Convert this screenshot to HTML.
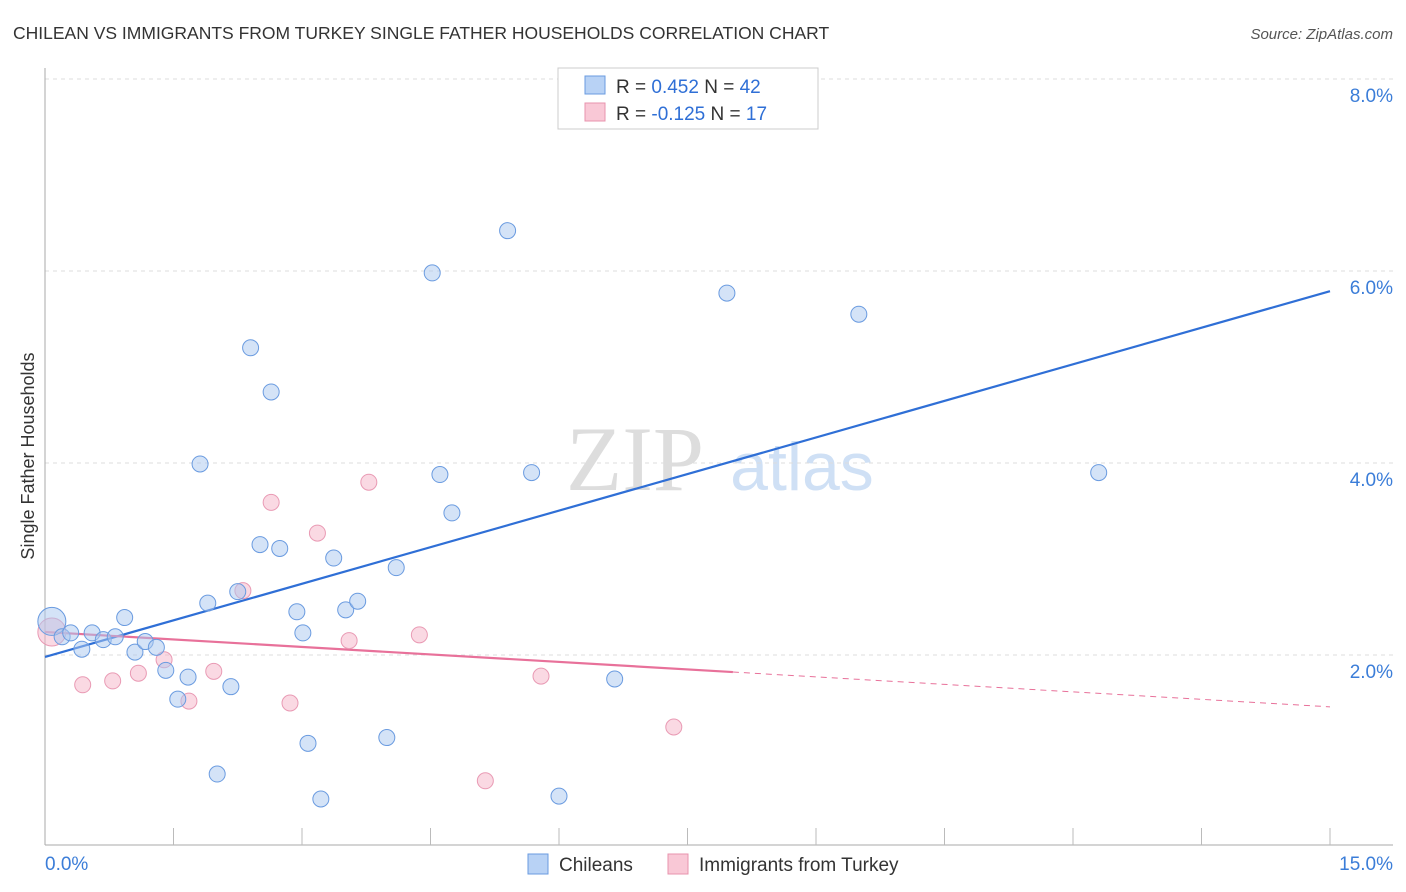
<!DOCTYPE html>
<html><head><meta charset="utf-8"><style>
body{margin:0;background:#fff;font-family:"Liberation Sans",sans-serif;}
#wrap{position:relative;width:1406px;height:892px;overflow:hidden;}
</style></head><body>
<div id="wrap">
<svg id="svg" width="1406" height="892" xmlns="http://www.w3.org/2000/svg" font-family="Liberation Sans, sans-serif">
<text x="13" y="39" font-size="17.5" fill="#333">CHILEAN VS IMMIGRANTS FROM TURKEY SINGLE FATHER HOUSEHOLDS CORRELATION CHART</text>
<text x="1393" y="39" font-size="15" fill="#555" font-style="italic" text-anchor="end">Source: ZipAtlas.com</text>
<text x="0" y="0" transform="translate(34,456) rotate(-90)" font-size="18" fill="#333" text-anchor="middle">Single Father Households</text>
<g><text x="635" y="490" font-size="92" fill="#ddd" font-family="Liberation Serif, serif" text-anchor="middle">ZIP</text><text x="802" y="490" font-size="68" fill="#cfe0f5" text-anchor="middle">atlas</text></g>
<g id="grid"></g><g id="axes"></g><g id="lines"></g><g id="pts"></g>
<g>
<rect x="558" y="68" width="260" height="61" fill="#fff" stroke="#ccc"/>
<rect x="585" y="76" width="20" height="18" fill="#b8d2f5" stroke="#6a9be0"/>
<text x="616" y="93" font-size="19" fill="#333">R = <tspan fill="#2f6fd6"> 0.452</tspan>   N = <tspan fill="#2f6fd6">42</tspan></text>
<rect x="585" y="103" width="20" height="18" fill="#f9c8d6" stroke="#e893ad"/>
<text x="616" y="120" font-size="19" fill="#333">R = <tspan fill="#2f6fd6">-0.125</tspan>   N = <tspan fill="#2f6fd6"> 17</tspan></text>
</g>
<g>
<rect x="528" y="854" width="20" height="20" fill="#b8d2f5" stroke="#6a9be0"/>
<text x="559" y="871" font-size="19" fill="#333">Chileans</text>
<rect x="668" y="854" width="20" height="20" fill="#f9c8d6" stroke="#e893ad"/>
<text x="699" y="871" font-size="19" fill="#333">Immigrants from Turkey</text>
</g>
</svg></div>
<script>
const yTicks=[2,4,6,8];
const yTickLabels=["2.0%","4.0%","6.0%","8.0%"];
const xTickLabels=["0.0%","15.0%"];
const blueX=[0.08,0.20,0.30,0.43,0.55,0.68,0.82,0.93,1.05,1.17,1.30,1.41,1.55,1.67,1.81,1.90,2.01,2.17,2.25,2.40,2.51,2.64,2.74,2.94,3.01,3.07,3.22,3.37,3.51,3.65,3.99,4.10,4.52,4.61,4.75,5.40,5.68,6.00,6.65,7.96,9.50,12.30];
const blueY=[2.35,2.19,2.23,2.06,2.23,2.16,2.19,2.39,2.03,2.14,2.08,1.84,1.54,1.77,3.99,2.54,0.76,1.67,2.66,5.20,3.15,4.74,3.11,2.45,2.23,1.08,0.50,3.01,2.47,2.56,1.14,2.91,5.98,3.88,3.48,6.42,3.90,0.53,1.75,5.77,5.55,3.90];
const pinkX=[0.08,0.44,0.79,1.09,1.39,1.68,1.97,2.31,2.64,2.86,3.18,3.55,3.78,4.37,5.14,5.79,7.34];
const pinkY=[2.24,1.69,1.73,1.81,1.95,1.52,1.83,2.67,3.59,1.50,3.27,2.15,3.80,2.21,0.69,1.78,1.25];
const blueTrend=[1.98,5.79];   // y at x=0 and x=15
const pinkTrend=[2.24,1.46];   // y at x=0 and x=15
const pinkSolidEnd=8.03;
const NS="http://www.w3.org/2000/svg";
const sx=v=>45+v/15*1285, sy=v=>847-v*96;
function mk(t,a,p){const e=document.createElementNS(NS,t);for(const k in a)e.setAttribute(k,a[k]);p.appendChild(e);return e;}
const grid=document.getElementById('grid'),axes=document.getElementById('axes'),lines=document.getElementById('lines'),pts=document.getElementById('pts');
yTicks.forEach((t,i)=>{
 const l=mk('line',{x1:45,x2:1393,y1:sy(t),y2:sy(t),stroke:'#ddd','stroke-dasharray':'4,4'},grid);
 
 
 const tx=mk('text',{x:1393,y:sy(t)+23,'font-size':19,fill:'#3b7dd8','text-anchor':'end'},axes);
 tx.textContent=yTickLabels[i];
 
 
});
mk('line',{x1:45,x2:45,y1:68,y2:845,stroke:'#aaa'},axes);
mk('line',{x1:45,x2:1393,y1:845,y2:845,stroke:'#aaa'},axes);
for(let k=1;k<=10;k++){const x=sx(k*1.5);const t=mk('line',{x1:x,x2:x,y1:828,y2:845,stroke:'#bbb'},axes);
 
 }
[[0,'start',45],[15,'end',1393]].forEach((d,i)=>{const t=mk('text',{x:d[2],y:870,'font-size':19,fill:'#3b7dd8','text-anchor':d[1]},axes);t.textContent=xTickLabels[i];
 
 });
function pd(x,t){return t[0]+(t[1]-t[0])*x/15;}
const bl=mk('line',{x1:sx(0),y1:sy(blueTrend[0]),x2:sx(15),y2:sy(blueTrend[1]),stroke:'#2f6fd6','stroke-width':2.2},lines);


const pl=mk('line',{x1:sx(0),y1:sy(pinkTrend[0]),x2:sx(pinkSolidEnd),y2:sy(pd(pinkSolidEnd,pinkTrend)),stroke:'#e8719a','stroke-width':2.2},lines);


const pl2=mk('line',{x1:sx(pinkSolidEnd),y1:sy(pd(pinkSolidEnd,pinkTrend)),x2:sx(15),y2:sy(pinkTrend[1]),stroke:'#e8719a','stroke-width':1,'stroke-dasharray':'6,5'},lines);


pinkX.forEach((x,i)=>{const c=mk('circle',{cx:sx(x),cy:sy(pinkY[i]),r:i==0?14:8,fill:'rgba(246,180,200,0.5)',stroke:'#e99ab4','stroke-width':1},pts);
 
 });
blueX.forEach((x,i)=>{const c=mk('circle',{cx:sx(x),cy:sy(blueY[i]),r:i==0?14:8,fill:'rgba(170,200,240,0.5)',stroke:'#6a9be0','stroke-width':1},pts);
 
 });
</script>
</body></html>
